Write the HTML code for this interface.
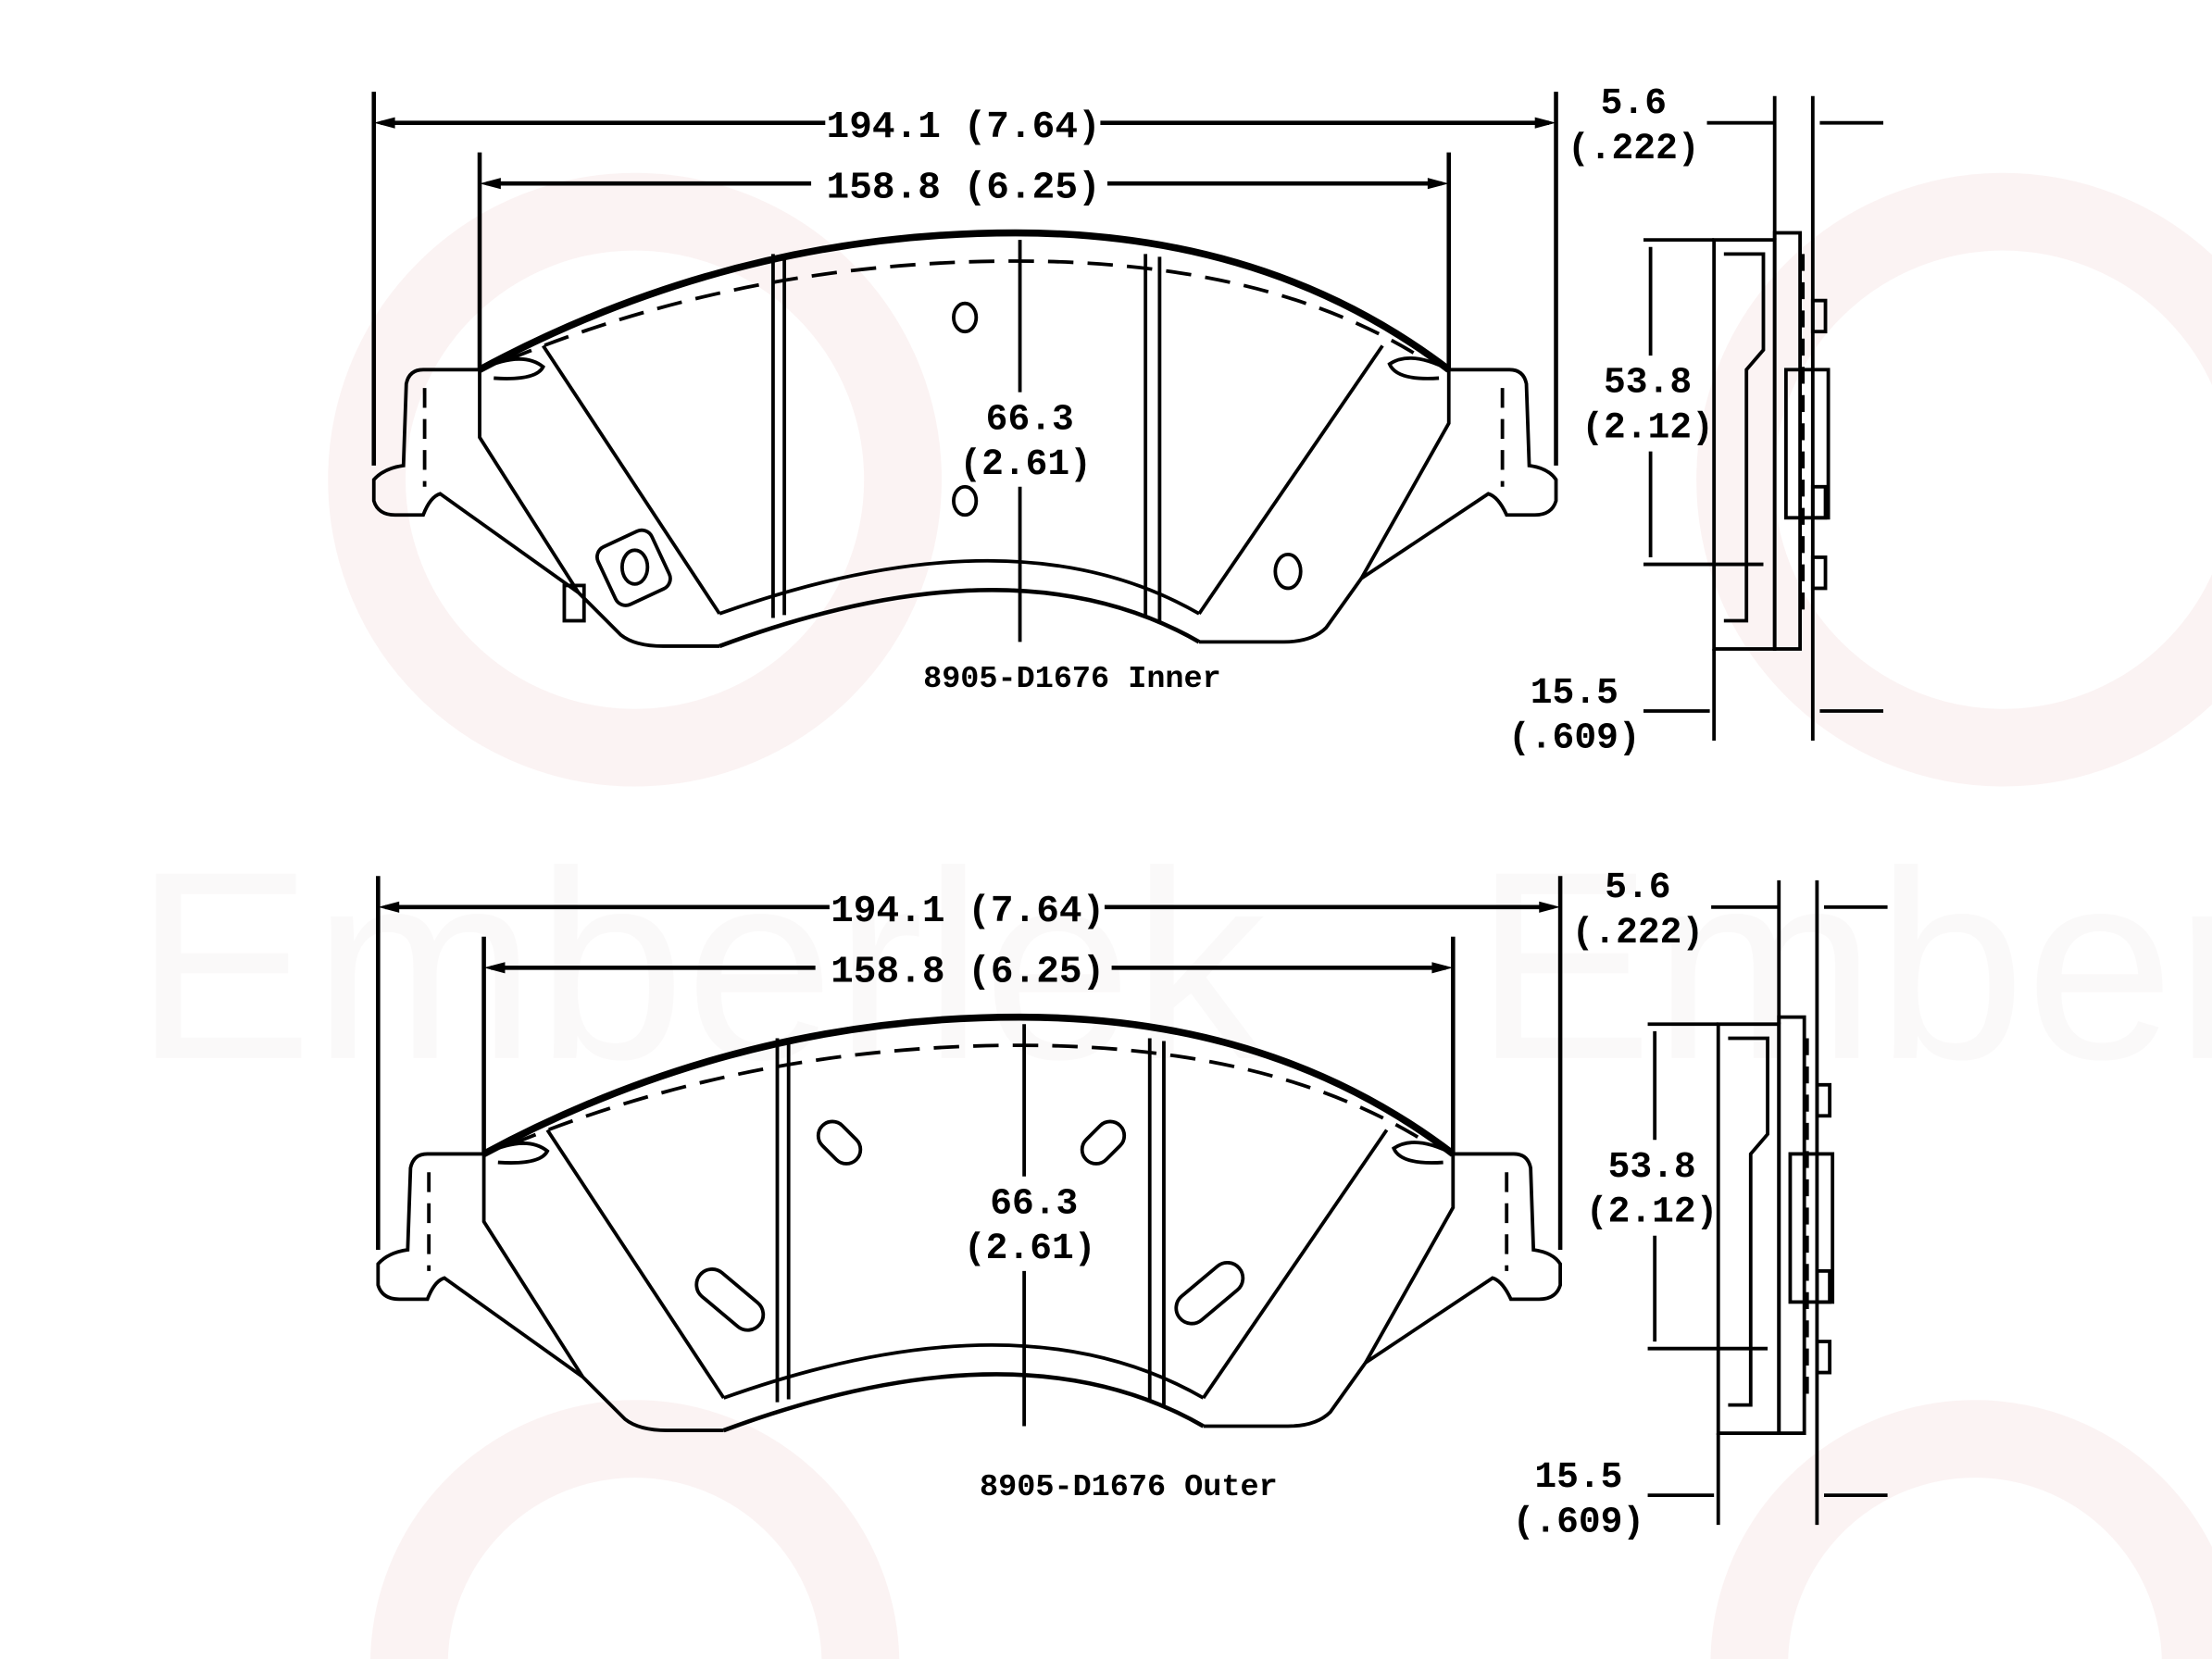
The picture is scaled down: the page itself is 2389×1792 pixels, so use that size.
<!DOCTYPE html>
<html><head><meta charset="utf-8"><style>
html,body{margin:0;padding:0;background:#fff;overflow:hidden;width:2389px;height:1792px;}
svg{display:block;}
text{font-family:"Liberation Mono",monospace;font-weight:bold;fill:#000;}
</style></head><body>
<svg width="2389" height="1792" viewBox="0 0 1568 1176" xmlns="http://www.w3.org/2000/svg">
<g opacity="0.35">
<circle cx="450" cy="340" r="190" fill="none" stroke="#f4dede" stroke-width="55"/>
<circle cx="1420" cy="340" r="190" fill="none" stroke="#f4dede" stroke-width="55"/>
<circle cx="450" cy="1180" r="160" fill="none" stroke="#f4dede" stroke-width="55"/>
<circle cx="1400" cy="1180" r="160" fill="none" stroke="#f4dede" stroke-width="55"/>
<text x="95" y="750" style="font-family:'Liberation Sans',sans-serif;font-weight:normal;font-size:190px;fill:#f3eeee">Emberlek</text>
<text x="1045" y="750" style="font-family:'Liberation Sans',sans-serif;font-weight:normal;font-size:190px;fill:#f3eeee">Ember</text>
</g>
<defs>
<g id="pad">
 <g stroke="#000" stroke-width="3" fill="none">
  <line x1="265" y1="65" x2="265" y2="330"/><line x1="1103" y1="65" x2="1103" y2="330"/>
  <line x1="270" y1="87" x2="585" y2="87"/><line x1="780" y1="87" x2="1098" y2="87"/>
  <line x1="340" y1="108" x2="340" y2="262"/><line x1="1027" y1="108" x2="1027" y2="262"/>
  <line x1="345" y1="130" x2="575" y2="130"/><line x1="785" y1="130" x2="1022" y2="130"/>
 </g>
 <polygon points="265,87 280,83 280,91"/><polygon points="1103,87 1088,83 1088,91"/>
 <polygon points="340,130 355,126 355,134"/><polygon points="1027,130 1012,126 1012,134"/>
 <text x="683" y="97" font-size="27" text-anchor="middle">194.1 (7.64)</text>
 <text x="683" y="140" font-size="27" text-anchor="middle">158.8 (6.25)</text>
 <g stroke="#000" stroke-width="2.5" fill="none">
  <path d="M340,262 L300,262 Q290,262 288,272 L286,330 Q272,332 265,340 L265,355 Q268,365 280,365 L300,365 Q305,352 312,350 L410,420 L440,450 Q450,458 470,458 L510,458"/>
  <path d="M1027,262 L1070,262 Q1080,262 1082,272 L1084,330 Q1098,332 1103,340 L1103,355 Q1100,365 1088,365 L1068,365 Q1062,352 1055,350 L965,410 L940,445 Q930,455 910,455 L850,455"/>
  <path d="M340,262 L340,310 L410,420"/>
  <path d="M1027,262 L1027,300 L965,410"/>
  <path d="M510,458 Q720,380 850,455" stroke-width="3"/>
  <path d="M510,435 Q720,360 850,435"/>
  <path d="M340,262 Q520,165 720,165 Q900,165 1027,262" stroke-width="5"/>
  <path d="M360,255 Q530,185 720,185 Q900,185 1010,255" stroke-dasharray="18,10"/>
  <path d="M385,245 L510,435"/><path d="M980,245 L850,435"/>
  <path d="M340,262 Q370,248 385,260 Q380,270 350,268"/>
  <path d="M1027,262 Q1000,248 985,258 Q990,270 1020,268"/>
  <line x1="548" y1="180" x2="548" y2="438"/><line x1="556" y1="180" x2="556" y2="436"/>
  <line x1="812" y1="180" x2="812" y2="438"/><line x1="822" y1="182" x2="822" y2="440"/>
  <line x1="723" y1="170" x2="723" y2="278"/><line x1="723" y1="345" x2="723" y2="455"/>
  <line x1="301" y1="275" x2="301" y2="345" stroke-dasharray="14,8"/>
  <line x1="1065" y1="275" x2="1065" y2="345" stroke-dasharray="14,8"/>
 </g>
 <text x="730" y="304" font-size="26" text-anchor="middle">66.3</text>
 <text x="727" y="336" font-size="26" text-anchor="middle">(2.61)</text>
</g>
<g id="side">
 <g stroke="#000" stroke-width="2.5" fill="none">
  <line x1="1258" y1="68" x2="1258" y2="170"/><line x1="1285" y1="68" x2="1285" y2="525"/>
  <line x1="1210" y1="87" x2="1258" y2="87"/><line x1="1290" y1="87" x2="1335" y2="87"/>
  <rect x="1215" y="170" width="43" height="290"/>
  <path d="M1222,180 L1250,180 L1250,248 L1238,262 L1238,440 L1222,440"/>
  <rect x="1258" y="165" width="18" height="295"/>
  <rect x="1266" y="262" width="30" height="105"/>
  <rect x="1285" y="213" width="9" height="22"/><rect x="1285" y="345" width="9" height="22"/><rect x="1285" y="395" width="9" height="22"/>
  <line x1="1278" y1="180" x2="1278" y2="440" stroke-dasharray="12,8"/>
  <line x1="1165" y1="170" x2="1215" y2="170"/><line x1="1165" y1="400" x2="1250" y2="400"/>
  <line x1="1170" y1="175" x2="1170" y2="252"/><line x1="1170" y1="320" x2="1170" y2="395"/>
  <line x1="1215" y1="460" x2="1215" y2="525"/>
  <line x1="1165" y1="504" x2="1212" y2="504"/><line x1="1290" y1="504" x2="1335" y2="504"/>
 </g>
 <text x="1158" y="80" font-size="26" text-anchor="middle">5.6</text>
 <text x="1158" y="112" font-size="26" text-anchor="middle">(.222)</text>
 <text x="1168" y="278" font-size="26" text-anchor="middle">53.8</text>
 <text x="1168" y="310" font-size="26" text-anchor="middle">(2.12)</text>
 <text x="1116" y="498" font-size="26" text-anchor="middle">15.5</text>
 <text x="1116" y="530" font-size="26" text-anchor="middle">(.609)</text>
</g>
</defs>
<use href="#pad"/>
<use href="#side"/>
<g stroke="#000" stroke-width="2.5" fill="none">
 <ellipse cx="684" cy="225" rx="8" ry="10"/><ellipse cx="684" cy="355" rx="8" ry="10"/>
 <ellipse cx="913" cy="405" rx="9" ry="12"/>
 <rect x="428" y="380" width="42" height="45" rx="8" transform="rotate(-25 449 402)"/>
 <ellipse cx="450" cy="402" rx="9" ry="12"/>
 <rect x="400" y="415" width="14" height="25"/>
</g>
<text x="760" y="487" font-size="22" text-anchor="middle">8905-D1676 Inner</text>
<g transform="translate(3,556)">
 <use href="#pad"/><use href="#side"/>
</g>
<g stroke="#000" stroke-width="2.5" fill="none">
 <rect x="578" y="800" width="34" height="20" rx="10" transform="rotate(45 595 810)"/>
 <rect x="765" y="800" width="34" height="20" rx="10" transform="rotate(-45 782 810)"/>
 <rect x="490" y="910" width="55" height="22" rx="11" transform="rotate(40 517 921)"/>
 <rect x="830" y="906" width="55" height="22" rx="11" transform="rotate(-40 857 917)"/>
</g>
<text x="800" y="1060" font-size="22" text-anchor="middle">8905-D1676 Outer</text>
</svg>
</body></html>
